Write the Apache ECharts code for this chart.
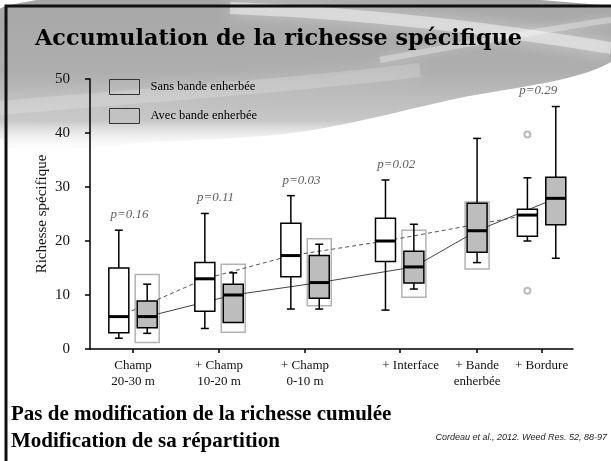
<!DOCTYPE html>
<html>
<head>
    <meta charset="utf-8">
    <title>Accumulation de la richesse spécifique</title>
    <script src="https://cdn.jsdelivr.net/npm/echarts@6/dist/echarts.min.js"></script>
    <style>
        html, body { margin: 0; padding: 0; background: #fff; }
        #chart1 { width: 611px; height: 461px; }
    </style>
</head>
<body>
<div id="chart1"></div>
<script>
    // groupes (axe des x)
    var categories = ['Champ\n20-30 m', '+ Champ\n10-20 m', '+ Champ\n0-10 m', '+ Interface', '+ Bande\nenherbée', '+ Bordure'];
    var xPos = [1, 3, 5, 7.2, 9, 10.5];
    // [min, Q1, médiane, Q3, max]
    var sansBande = [
        [2.0, 3.0, 6.0, 15.0, 22.0],
        [3.8, 7.0, 13.0, 16.0, 25.1],
        [7.4, 13.4, 17.3, 23.3, 28.4],
        [7.2, 16.2, 20.0, 24.2, 31.3],
        null,
        [20.0, 20.9, 24.8, 25.9, 31.7]
    ];
    var avecBande = [
        [2.9, 3.95, 6.0, 8.9, 12.0],
        [null, 4.9, 10.0, 12.0, 14.1],
        [7.4, 9.4, 12.3, 17.3, 19.4],
        [11.1, 12.2, 15.2, 18.1, 23.1],
        [16.0, 17.9, 21.9, 27.0, 39.0],
        [16.8, 23.0, 27.9, 31.8, 44.9]
    ];
    var sansOutliers = [[], [], [], [], [], [39.7, 10.8]];
    // rectangles gris clair en arrière-plan
    var ghostLow = [1.2, 3.1, 8.0, 9.6, 14.8, null];
    var ghostHigh = [13.8, 15.7, 20.4, 22.0, 27.2, null];
    var pLabels = ['p=0.16', 'p=0.11', 'p=0.03', 'p=0.02', null, 'p=0.29'];
    var yTicks = [0, 10, 20, 30, 40, 50];

    var OFF = 0.33;
    var serif = "'Liberation Serif', 'Times New Roman', serif";

    function sansX(i) { return xPos[i] - OFF; }
    function avecX(i) { return sansBande[i] ? xPos[i] + OFF : xPos[i]; }

    var sansData = [], avecData = [], sansLine = [], avecLine = [], outData = [], ghostData = [], pData = [];
    for (var i = 0; i < categories.length; i++) {
        if (sansBande[i]) {
            sansData.push([sansX(i)].concat(sansBande[i]));
            sansLine.push([sansX(i), sansBande[i][2]]);
            sansOutliers[i].forEach(function (v) { outData.push([sansX(i), v]); });
        }
        avecData.push([avecX(i)].concat(avecBande[i]));
        avecLine.push([avecX(i), avecBande[i][2]]);
        if (ghostLow[i] != null) ghostData.push([avecX(i), ghostLow[i], ghostHigh[i]]);
        if (pLabels[i]) {
            var whiskerTop = Math.max(sansBande[i] ? sansBande[i][4] : 0, avecBande[i][4]);
            pData.push([xPos[i] - 0.08, whiskerTop]);
        }
    }
    var pText = pLabels.filter(function (t) { return t; });

    function boxRenderer(fill) {
        return function (params, api) {
            var x = api.value(0);
            var q1 = api.coord([x, api.value(2)]);
            var md = api.coord([x, api.value(3)]);
            var q3 = api.coord([x, api.value(4)]);
            var hi = api.coord([x, api.value(5)]);
            var cx = q1[0], w = 20, cw = 8;
            var st = {stroke: '#000', lineWidth: 1.5};
            var kids = [
                {type: 'line', shape: {x1: cx, y1: hi[1], x2: cx, y2: q3[1]}, style: st},
                {type: 'line', shape: {x1: cx - cw / 2, y1: hi[1], x2: cx + cw / 2, y2: hi[1]}, style: st}
            ];
            var minV = api.value(1);
            if (minV != null && !isNaN(minV)) {
                var lo = api.coord([x, minV]);
                kids.push({type: 'line', shape: {x1: cx, y1: q1[1], x2: cx, y2: lo[1]}, style: st});
                kids.push({type: 'line', shape: {x1: cx - cw / 2, y1: lo[1], x2: cx + cw / 2, y2: lo[1]}, style: st});
            }
            kids.push({type: 'rect', shape: {x: cx - w / 2, y: q3[1], width: w, height: q1[1] - q3[1]},
                style: {fill: fill, stroke: '#000', lineWidth: 1.5}});
            kids.push({type: 'line', shape: {x1: cx - w / 2, y1: md[1], x2: cx + w / 2, y2: md[1]},
                style: {stroke: '#000', lineWidth: 3}});
            return {type: 'group', children: kids};
        };
    }

    var myChart1 = echarts.init(document.getElementById('chart1'));
    myChart1.setOption({
        animation: false,
        title: [
            {
                text: 'Accumulation de la richesse spécifique',
                left: 35, top: 28, padding: 0,
                textStyle: {fontFamily: "'DejaVu Serif', serif", fontWeight: 'bold', fontSize: 22.3, color: '#000'}
            },
            {
                text: 'Pas de modification de la richesse cumulée\nModification de sa répartition',
                left: 11, top: 401, padding: 0,
                textStyle: {fontFamily: serif, fontWeight: 'bold', fontSize: 21, lineHeight: 27, color: '#000'}
            },
            {
                text: 'Cordeau et al., 2012. Weed Res. 52, 88-97',
                right: 4, top: 433, padding: 0,
                textStyle: {fontFamily: "'Liberation Sans', Arial, sans-serif", fontStyle: 'italic', fontWeight: 'normal', fontSize: 9, color: '#222'}
            }
        ],
        graphic: [
            {type: 'rect', z: -30, shape: {x: 0, y: 0, width: 611, height: 461}, style: {fill: '#fff'}},
            {
                type: 'polygon', z: -29,
                shape: {
                    points: [[6, 6], [611, 6], [611, 62], [450, 100], [300, 132], [150, 142], [6, 146]],
                    smooth: 0.3
                },
                style: {
                    fill: new echarts.graphic.LinearGradient(0, 0, 0, 1, [
                        {offset: 0, color: '#a6a6a6'},
                        {offset: 0.5, color: '#aeaeae'},
                        {offset: 0.8, color: '#c8c8c8'},
                        {offset: 1, color: 'rgba(255,255,255,0)'}
                    ])
                }
            },
            {
                type: 'bezierCurve', z: -28,
                shape: {x1: 0, y1: 108, cpx1: 150, cpy1: 95, cpx2: 300, cpy2: 85, x2: 420, y2: 70},
                style: {stroke: 'rgba(255,255,255,0.18)', lineWidth: 14, fill: null, shadowBlur: 18, shadowColor: 'rgba(255,255,255,0.8)'}
            },
            {
                type: 'bezierCurve', z: -28,
                shape: {x1: 230, y1: 8, cpx1: 380, cpy1: 14, cpx2: 500, cpy2: 30, x2: 611, y2: 48},
                style: {stroke: 'rgba(255,255,255,0.45)', lineWidth: 12, fill: null, shadowBlur: 16, shadowColor: 'rgba(255,255,255,0.9)'}
            },
            {
                type: 'bezierCurve', z: -28,
                shape: {x1: 380, y1: 60, cpx1: 460, cpy1: 45, cpx2: 540, cpy2: 30, x2: 611, y2: 20},
                style: {stroke: 'rgba(255,255,255,0.3)', lineWidth: 6, fill: null, shadowBlur: 10, shadowColor: 'rgba(255,255,255,0.8)'}
            },
            {
                type: 'polyline', z: 50,
                shape: {points: [[6, 461], [6, 6], [611, 6]]},
                style: {stroke: '#111', lineWidth: 3, fill: null}
            }
        ],
        legend: {
            left: 109, top: 79, orient: 'vertical', padding: 0,
            itemWidth: 30, itemHeight: 15, itemGap: 13,
            textStyle: {fontFamily: serif, fontSize: 12.5, color: '#000', padding: [0, 0, 0, 6]},
            data: [
                {name: 'Sans bande enherbée', icon: 'rect', itemStyle: {color: 'rgba(0,0,0,0)', borderColor: '#333', borderWidth: 1}},
                {name: 'Avec bande enherbée', icon: 'rect', itemStyle: {color: '#c2c2c2', borderColor: '#333', borderWidth: 1}}
            ]
        },
        grid: {left: 90, right: 38, top: 79, bottom: 112},
        xAxis: {
            type: 'value', min: 0, max: 11.23,
            axisLine: {show: true, onZero: false, lineStyle: {color: '#000', width: 1.5}},
            axisTick: {show: true, customValues: xPos, length: 4, lineStyle: {color: '#000', width: 1.5}},
            splitLine: {show: false},
            axisLabel: {
                customValues: xPos, margin: 9, hideOverlap: false,
                showMinLabel: true, showMaxLabel: true,
                fontFamily: serif, fontSize: 13, lineHeight: 15.5, color: '#111',
                formatter: function (v) {
                    var k = xPos.indexOf(v);
                    if (k < 0) return '';
                    // « + Interface » est un peu décalé à droite sur la figure d'origine
                    return k === 3 ? '{shift|' + categories[k] + '}' : categories[k];
                },
                rich: {
                    shift: {fontFamily: serif, fontSize: 13, color: '#111', padding: [0, 0, 0, 22]}
                }
            }
        },
        yAxis: {
            type: 'value', min: 0, max: 50, interval: 10,
            name: 'Richesse spécifique', nameLocation: 'middle', nameGap: 40, nameRotate: 90,
            nameMoveOverlap: false,
            nameTextStyle: {fontFamily: serif, fontSize: 15, color: '#111'},
            axisLine: {show: true, lineStyle: {color: '#000', width: 1.5}},
            axisTick: {show: true, length: 5, lineStyle: {color: '#000', width: 1.5}},
            splitLine: {show: false},
            axisLabel: {
                margin: 20, fontFamily: serif, fontSize: 15, color: '#111',
                formatter: function (v) { return yTicks.indexOf(v) >= 0 ? String(v) : ''; }
            }
        },
        series: [
            {
                name: 'ghost', type: 'custom', z: 1, silent: true,
                data: ghostData,
                renderItem: function (params, api) {
                    var a = api.coord([api.value(0), api.value(2)]);
                    var b = api.coord([api.value(0), api.value(1)]);
                    return {
                        type: 'rect',
                        shape: {x: a[0] - 12, y: a[1], width: 24, height: b[1] - a[1]},
                        style: {fill: 'none', stroke: '#b3b3b3', lineWidth: 1.5}
                    };
                }
            },
            {
                name: 'ligne sans', type: 'line', z: 2, data: sansLine, symbol: 'none',
                lineStyle: {color: '#555', width: 1, type: [4, 3]}
            },
            {
                name: 'ligne avec', type: 'line', z: 2, data: avecLine, symbol: 'none',
                lineStyle: {color: '#444', width: 1}
            },
            {
                name: 'Sans bande enherbée', type: 'custom', z: 3,
                itemStyle: {color: '#fff'},
                data: sansData, renderItem: boxRenderer('#fff')
            },
            {
                name: 'Avec bande enherbée', type: 'custom', z: 3,
                itemStyle: {color: '#bdbdbd'},
                data: avecData, renderItem: boxRenderer('#bdbdbd')
            },
            {
                name: 'outliers', type: 'scatter', z: 3, data: outData,
                symbol: 'emptyCircle', symbolSize: 6,
                itemStyle: {color: '#aaa', borderColor: '#aaa', borderWidth: 1}
            },
            {
                name: 'p', type: 'scatter', z: 4, symbolSize: 0,
                data: pData,
                label: {
                    show: true, position: 'top', distance: 9,
                    fontFamily: serif, fontStyle: 'italic', fontSize: 13, color: '#333',
                    formatter: function (p) { return pText[p.dataIndex]; }
                }
            }
        ]
    });
</script>
</body>
</html>
